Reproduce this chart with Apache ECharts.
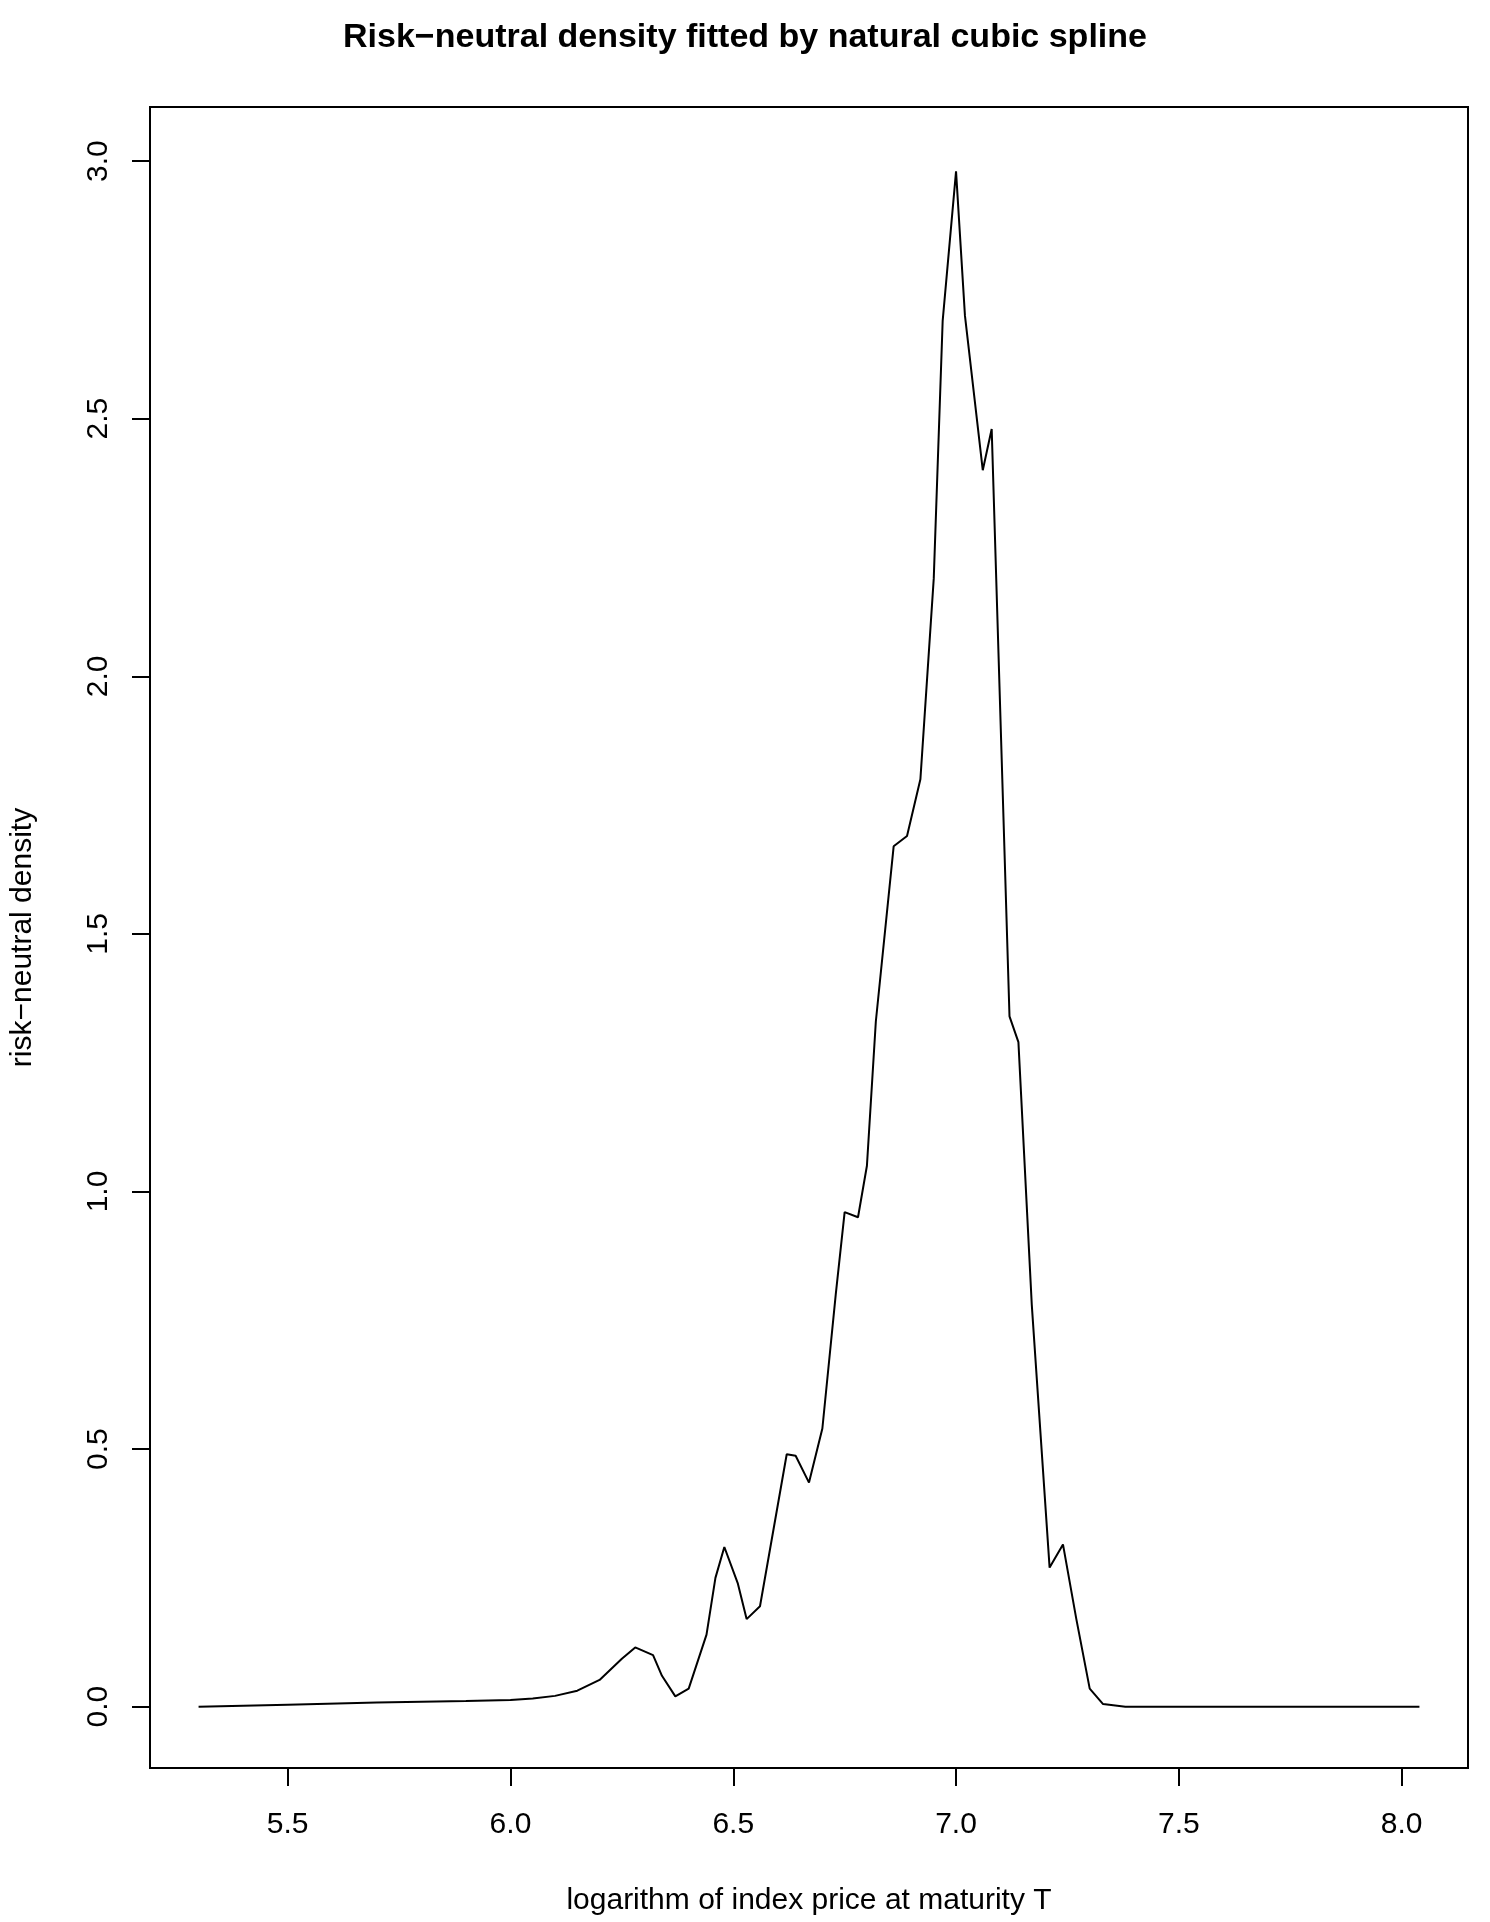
<!DOCTYPE html>
<html>
<head>
<meta charset="utf-8">
<title>Risk-neutral density</title>
<script src="https://cdn.jsdelivr.net/npm/echarts@6/dist/echarts.min.js"></script>
</head>
<body style="margin:0;background:#fff">
<div id="main" style="width:1490px;height:1922px;"></div>
<script>
// log index price values
var xs = [5.30, 5.50, 5.70, 5.90, 6.00, 6.05, 6.10, 6.15, 6.20, 6.25, 6.28, 6.32, 6.34, 6.37, 6.40,
          6.44, 6.46, 6.48, 6.51, 6.53, 6.56, 6.62, 6.64, 6.67, 6.70, 6.73, 6.75, 6.78, 6.80, 6.82,
          6.86, 6.89, 6.92, 6.95, 6.97, 7.00, 7.02, 7.06, 7.08, 7.12, 7.14, 7.17, 7.21, 7.24, 7.27,
          7.30, 7.33, 7.38, 7.60, 8.04];
// fitted density
var dens = [0.000, 0.004, 0.008, 0.011, 0.013, 0.016, 0.021, 0.031, 0.052, 0.093, 0.115, 0.100, 0.060, 0.020, 0.035,
            0.140, 0.250, 0.310, 0.240, 0.170, 0.195, 0.490, 0.487, 0.435, 0.540, 0.800, 0.960, 0.950, 1.050, 1.330,
            1.670, 1.690, 1.800, 2.190, 2.690, 2.980, 2.700, 2.400, 2.480, 1.340, 1.290, 0.780, 0.270, 0.315, 0.170,
            0.035, 0.005, 0.000, 0.000, 0.000];
var xTicks = [5.5, 6.0, 6.5, 7.0, 7.5, 8.0];
var yTicks = [0.0, 0.5, 1.0, 1.5, 2.0, 2.5, 3.0];

var pts = [];
for (var i = 0; i < xs.length; i++) pts.push([xs[i], dens[i]]);

var font = 'Liberation Sans, Arial, sans-serif';
var chart = echarts.init(document.getElementById('main'));
chart.setOption({
    backgroundColor: '#fff',
    animation: false,
    title: {
        text: 'Risk\u2212neutral density fitted by natural cubic spline',
        left: 'center', top: 16,
        textStyle: {fontFamily: font, fontSize: 34, fontWeight: 'bold', color: '#000'}
    },
    grid: {left: 147, right: 22, top: 107, bottom: 154, show: true,
           borderColor: '#000', borderWidth: 2, backgroundColor: 'transparent'},
    xAxis: {
        type: 'value', min: 5.191, max: 8.149,
        name: 'logarithm of index price at maturity T',
        nameLocation: 'middle', nameGap: 118,
        nameTextStyle: {fontFamily: font, fontSize: 30, color: '#000'},
        axisLine: {show: false, onZero: false},
        splitLine: {show: false},
        axisTick: {show: true, inside: false, length: 18, customValues: xTicks,
                   lineStyle: {color: '#000', width: 2}},
        axisLabel: {fontFamily: font, fontSize: 30, color: '#000', margin: 42,
                    customValues: xTicks, formatter: function (v) { return v.toFixed(1); }}
    },
    yAxis: {
        type: 'value', min: -0.119, max: 3.105,
        name: 'risk\u2212neutral density',
        nameLocation: 'middle', nameGap: 112,
        nameTextStyle: {fontFamily: font, fontSize: 30, color: '#000'},
        axisLine: {show: false, onZero: false},
        splitLine: {show: false},
        axisTick: {show: true, inside: false, length: 18, customValues: yTicks,
                   lineStyle: {color: '#000', width: 2}},
        axisLabel: {fontFamily: font, fontSize: 30, color: '#000', margin: 36, rotate: 90,
                    customValues: yTicks, formatter: function (v) { return v.toFixed(1); }}
    },
    series: [{
        type: 'line', data: pts, showSymbol: false,
        lineStyle: {color: '#000', width: 2}
    }]
});
</script>
</body>
</html>
